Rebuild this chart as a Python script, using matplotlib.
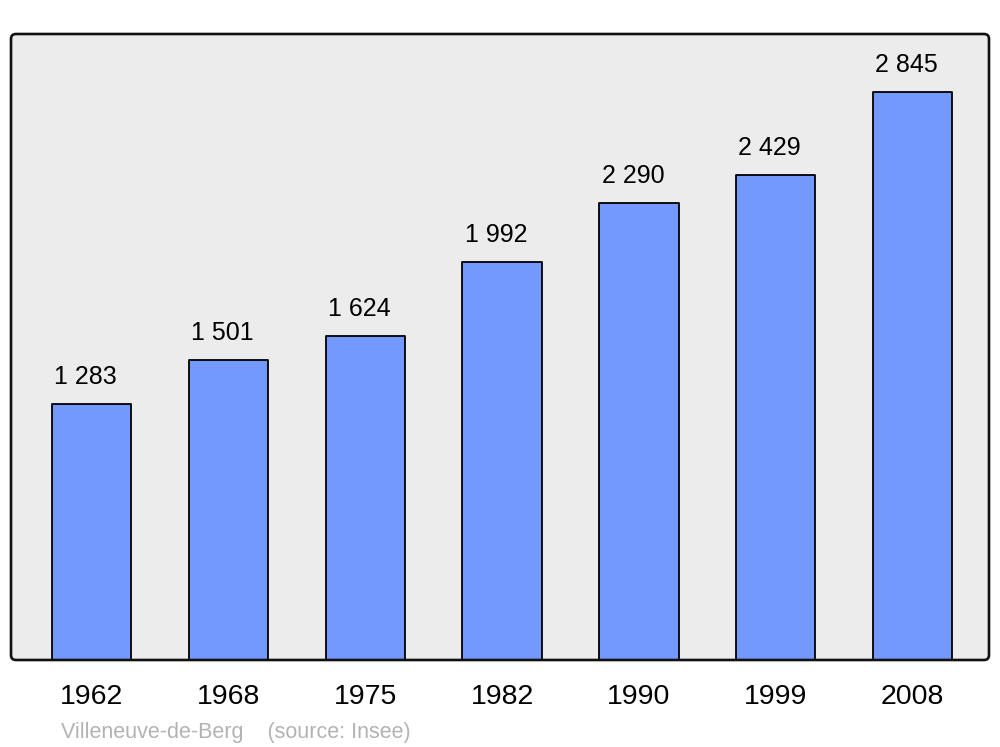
import matplotlib
matplotlib.use("Agg")
import matplotlib.pyplot as plt
from matplotlib.patches import FancyBboxPatch
from matplotlib.transforms import IdentityTransform

# population data (source: Insee)
years = ['1962', '1968', '1975', '1982', '1990', '1999', '2008']
population = [1283, 1501, 1624, 1992, 2290, 2429, 2845]
value_labels = ['1 283', '1 501', '1 624', '1 992', '2 290', '2 429', '2 845']
town = 'Villeneuve-de-Berg'
source = '(source: Insee)'

plt.rcParams['font.family'] = ['Liberation Sans', 'DejaVu Sans']

fig = plt.figure(figsize=(10, 7.47), dpi=100)
ax = fig.add_axes([0.011, 0.1165, 0.978, 0.838])
ax.set_facecolor('#ececec')

x = list(range(len(years)))
bars = ax.bar(x, population, width=0.58, color='#7399ff', edgecolor='black',
              linewidth=1.3, zorder=2)
for b in bars:
    b.set_joinstyle('round')

#value labels above each bar (slightly left of centre like the original)
for xi, v, lab in zip(x, population, value_labels):
    ax.annotate(lab, (xi, v), xytext=(-4.3, 14.5), textcoords='offset points',
                ha='center', va='baseline', fontsize=18, color='black')

ax.set_xlim(-0.59, 6.56)
ax.set_ylim(0, 3136)
ax.set_xticks(x)
ax.set_xticklabels(years, fontsize=20.5)
ax.tick_params(axis='x', length=0, pad=17)
ax.set_yticks([])
for s in ax.spines.values():
    s.set_visible(False)

#rounded frame around the plot area, in pixel coords
frame = FancyBboxPatch((11, 87), 978, 626, boxstyle='round,pad=0,rounding_size=5',
                       transform=IdentityTransform(), facecolor='none',
                       edgecolor='#111111', linewidth=1.9, zorder=5)
fig.patches.append(frame)

fig.text(0.061, 0.012, town + '    ' + source, fontsize=15.5, color='#b3b3b3',
         ha='left', va='baseline')

fig.savefig('out.png', dpi=100)
